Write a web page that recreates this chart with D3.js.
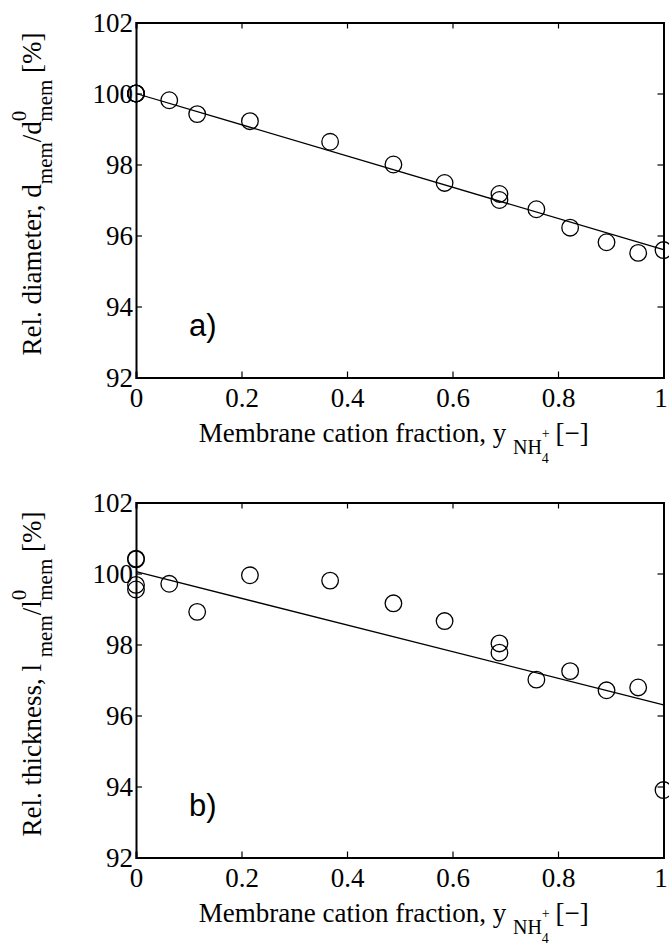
<!DOCTYPE html>
<html>
<head>
<meta charset="utf-8">
<script src="https://cdn.jsdelivr.net/npm/d3@7"></script>
<style>
  html, body { margin: 0; padding: 0; background: #fff; }
  svg { display: block; }
  .lbl { font-family: "Liberation Serif", "Times New Roman", serif; font-size: 27px; fill: #000; }
  .tag { font-family: "Liberation Sans", Arial, sans-serif; font-size: 31px; fill: #000; }
</style>
</head>
<body>
<script>
// Membrane cation fraction of each sample
const cationFraction = [0, 0, 0, 0, 0.063, 0.116, 0.216, 0.368, 0.488, 0.585, 0.689, 0.689, 0.759, 0.823, 0.892, 0.952, 1.0];
// Relative membrane diameter [%]
const relDiameter = [100.0, 100.0, 100.0, 100.0, 99.81, 99.42, 99.22, 98.64, 98.0, 97.48, 97.17, 97.0, 96.74, 96.22, 95.81, 95.51, 95.59];
// Relative membrane thickness [%]
const relThickness = [100.42, 100.40, 99.68, 99.55, 99.71, 98.92, 99.95, 99.80, 99.16, 98.66, 98.03, 97.77, 97.01, 97.25, 96.71, 96.79, 93.90];
// Linear fits, evaluated at the ends of the x range
const fitX = [0, 1];
const fitDiameter = [100.0, 95.6];
const fitThickness = [100.05, 96.3];
// Axis ticks
const xTicks = [0, 0.2, 0.4, 0.6, 0.8, 1];
const xTickLabels = ["0", "0.2", "0.4", "0.6", "0.8", "1"];
const yTicks = [92, 94, 96, 98, 100, 102];
const yTickLabels = ["92", "94", "96", "98", "100", "102"];

const W = 669, H = 951;
const svg = d3.select("body").append("svg").attr("width", W).attr("height", H);

const left = 136, right = 663.5, plotH = 355;
const serif = '"Liberation Serif", "Times New Roman", serif';

function panel(top, values, fit, tag, yLabelParts) {
  const x = d3.scaleLinear().domain([0, 1]).range([left, right]);
  const y = d3.scaleLinear().domain([92, 102]).range([top + plotH, top]);
  const g = svg.append("g");

  // inward ticks on all four sides
  const axB = d3.axisBottom(x).tickValues(xTicks).tickSize(-6).tickPadding(10)
    .tickFormat((d, i) => xTickLabels[i]);
  const axT = d3.axisTop(x).tickValues(xTicks).tickSize(-6).tickFormat("");
  const axL = d3.axisLeft(y).tickValues(yTicks).tickSize(-6).tickPadding(3)
    .tickFormat((d, i) => yTickLabels[i]);
  const axR = d3.axisRight(y).tickValues(yTicks).tickSize(-6).tickFormat("");

  const gb = g.append("g").attr("transform", `translate(0,${top + plotH})`).call(axB);
  g.append("g").attr("transform", `translate(0,${top})`).call(axT);
  const gl = g.append("g").attr("transform", `translate(${left},0)`).call(axL);
  g.append("g").attr("transform", `translate(${right},0)`).call(axR);
  g.selectAll(".domain").attr("stroke", "#000").attr("stroke-width", 2);
  g.selectAll(".tick line").attr("stroke", "#000").attr("stroke-width", 1.2);
  [gb, gl].forEach(a => a.attr("font-family", serif).attr("font-size", 27));
  g.selectAll(".tick text").attr("fill", "#000")
    .style("font-family", serif).style("font-size", "27px");
  gl.selectAll(".tick text").attr("dy", "0.34em");
  // keep the last x label inside the page
  gb.selectAll(".tick text").filter(d => d === 1).attr("dx", -3);

  // fitted line
  const line = d3.line().x(d => x(d[0])).y(d => y(d[1]));
  g.append("path").datum(fitX.map((v, i) => [v, fit[i]]))
    .attr("d", line).attr("fill", "none").attr("stroke", "#000").attr("stroke-width", 1.3);

  // measured points
  g.selectAll("circle.pt").data(values).enter().append("circle")
    .attr("class", "pt")
    .attr("cx", (d, i) => x(cationFraction[i]))
    .attr("cy", d => y(d))
    .attr("r", 8.3)
    .attr("fill", "none").attr("stroke", "#000").attr("stroke-width", 1.3);

  // panel tag
  g.append("text").attr("class", "tag").attr("x", 189).attr("y", y(93.17)).text(tag);

  // x-axis title
  const xt = g.append("text").attr("class", "lbl")
    .attr("x", (left + right) / 2 - 6).attr("y", top + plotH + 64)
    .attr("text-anchor", "middle");
  xt.append("tspan").text("Membrane cation fraction, y ");
  xt.append("tspan").attr("dy", 12).attr("font-size", 20).text("NH");
  xt.append("tspan").attr("dy", -16).attr("font-size", 14).text("+");
  xt.append("tspan").attr("dx", -8).attr("dy", 25).attr("font-size", 14).text("4");
  xt.append("tspan").attr("dy", -21).text(" [\u2212]");

  // y-axis title
  const yt = g.append("text").attr("class", "lbl")
    .attr("transform", `translate(41,${top + plotH / 2 - 6}) rotate(-90)`)
    .attr("text-anchor", "middle");
  yt.append("tspan").text(yLabelParts[0]);
  yt.append("tspan").attr("dy", 11).attr("font-size", 21).text("mem");
  yt.append("tspan").attr("dy", -11).text("/" + yLabelParts[1]);
  yt.append("tspan").attr("dy", -15).attr("font-size", 21).text("0");
  yt.append("tspan").attr("dx", -11).attr("dy", 26).attr("font-size", 21).text("mem");
  yt.append("tspan").attr("dy", -11).text("  [%]");
}

panel(22.5, relDiameter, fitDiameter, "a)", ["Rel. diameter, d", "d"]);
panel(502.5, relThickness, fitThickness, "b)", ["Rel. thickness, l ", "l"]);
</script>
</body>
</html>
